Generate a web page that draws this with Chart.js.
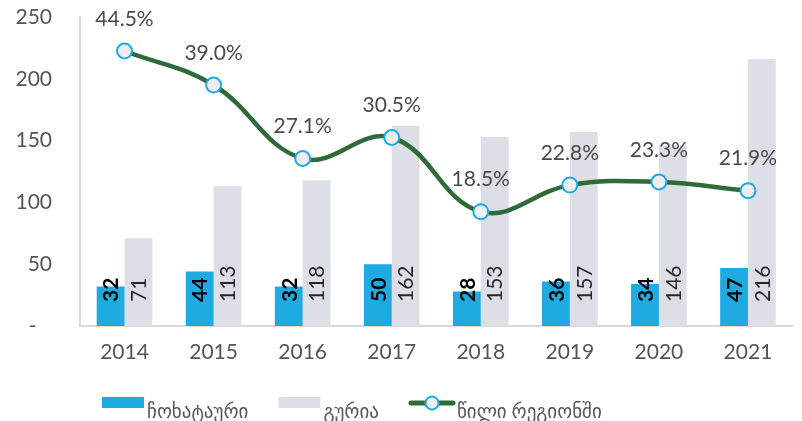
<!DOCTYPE html>
<html>
<head>
<meta charset="utf-8">
<script src="https://cdn.jsdelivr.net/npm/chart.js@4.4.0/dist/chart.umd.min.js"></script>
<style>
  html, body { margin: 0; padding: 0; background: #fff; }
</style>
</head>
<body>
<canvas id="myChart" width="802" height="421"></canvas>
<script>
'use strict';

const years = ['2014', '2015', '2016', '2017', '2018', '2019', '2020', '2021'];
const chokhatauri = [32, 44, 32, 50, 28, 36, 34, 47];
const guria = [71, 113, 118, 162, 153, 157, 146, 216];
const share = [44.5, 39.0, 27.1, 30.5, 18.5, 22.8, 23.3, 21.9];
const yTicks = [0, 50, 100, 150, 200, 250];
const names = ['ჩოხატაური', 'გურია', 'წილი რეგიონში'];

const font = 'Lato, "DejaVu Sans", sans-serif';
const blue = '#1dabe2';
const grey = '#dce0e6';
const green = '#2e6a3a';
const textColor = '#555555';

const ctx = document.getElementById('myChart');

// numbers on the bars and percentages over the points
const valueLabels = {
  id: 'valueLabels',
  afterDatasetsDraw(chart) {
    let c = chart.ctx;
    let base = chart.scales.y.getPixelForValue(0);
    [0, 1].forEach(function (d) {
      chart.getDatasetMeta(d).data.forEach(function (bar, i) {
        c.save();
        c.translate(bar.x, base - 24);
        c.rotate(-Math.PI / 2);
        c.font = (d === 0 ? 'bold ' : '') + '21px ' + font;
        c.fillStyle = d === 0 ? '#000000' : '#262626';
        c.textAlign = 'left';
        c.textBaseline = 'middle';
        c.fillText(String(chart.data.datasets[d].data[i]), 0, 1);
        c.restore();
      });
    });
    c.save();
    c.font = '21px ' + font;
    c.fillStyle = '#4a4a4a';
    c.textAlign = 'center';
    c.textBaseline = 'middle';
    chart.getDatasetMeta(2).data.forEach(function (pt, i) {
      c.fillText(share[i].toFixed(1) + '%', pt.x, pt.y - 32);
    });
    c.restore();
  }
};

// legend drawn by hand so it sits where the original one does
const bottomLegend = {
  id: 'bottomLegend',
  afterDraw(chart) {
    let c = chart.ctx;
    let x = 102;
    let boxTop = 397;
    c.save();
    c.font = '19px ' + font;
    c.textBaseline = 'alphabetic';
    c.textAlign = 'left';
    chart.data.datasets.forEach(function (ds, i) {
      if (ds.type === 'bar') {
        c.fillStyle = ds.backgroundColor;
        c.fillRect(x, boxTop, 42, 11);
        x += 45;
      } else {
        c.strokeStyle = ds.borderColor;
        c.lineWidth = 5;
        c.lineCap = 'round';
        c.beginPath();
        c.moveTo(x + 2, boxTop + 6);
        c.lineTo(x + 44, boxTop + 6);
        c.stroke();
        c.beginPath();
        c.arc(x + 23, boxTop + 6, 6.5, 0, Math.PI * 2);
        c.fillStyle = ds.pointBackgroundColor;
        c.fill();
        c.lineWidth = 2;
        c.strokeStyle = ds.pointBorderColor;
        c.stroke();
        x += 48;
      }
      c.fillStyle = textColor;
      c.fillText(ds.label, x, 418);
      x += c.measureText(ds.label).width + 30;
    });
    c.restore();
  }
};

new Chart(ctx, {
  data: {
    labels: years,
    datasets: [{
      type: 'bar',
      label: names[0],
      data: chokhatauri,
      backgroundColor: blue,
      yAxisID: 'y',
      order: 2,
      categoryPercentage: 0.625,
      barPercentage: 1
    }, {
      type: 'bar',
      label: names[1],
      data: guria,
      backgroundColor: grey,
      yAxisID: 'y',
      order: 3,
      categoryPercentage: 0.625,
      barPercentage: 1
    }, {
      type: 'line',
      label: names[2],
      data: share,
      yAxisID: 'y1',
      order: 1,
      borderColor: green,
      borderWidth: 4.5,
      tension: 0.4,
      pointRadius: 7.5,
      pointHoverRadius: 7.5,
      pointBackgroundColor: '#eeeeee',
      pointBorderColor: blue,
      pointBorderWidth: 2
    }]
  },
  options: {
    responsive: false,
    devicePixelRatio: 1,
    animation: false,
    layout: {
      padding: { top: 17, right: 5, left: 0, bottom: 55 }
    },
    scales: {
      x: {
        afterFit: function (axis) { axis.height = 40; },
        grid: { display: false, drawTicks: false },
        border: { color: '#d9d9d9', width: 2 },
        ticks: { color: textColor, font: { family: font, size: 21 }, padding: 14 }
      },
      y: {
        min: 0,
        max: 250,
        afterBuildTicks: function (axis) {
          axis.ticks = yTicks.map(function (v) { return { value: v }; });
        },
        afterFit: function (axis) {
          axis.width = 80;
          axis.paddingTop = 0;
          axis.paddingBottom = 0;
        },
        grid: { display: false, drawTicks: false },
        border: { color: '#d9d9d9', width: 2 },
        ticks: {
          color: textColor,
          font: { family: font, size: 21 },
          padding: 28,
          // zero is shown as a dash, set in from the right (blank braille cell keeps the gap)
          callback: function (v) { return v === 0 ? '-\u2800' : v; }
        }
      },
      y1: {
        min: 0,
        max: 50,
        display: false
      }
    },
    plugins: {
      tooltip: { enabled: false },
      legend: { display: false }
    }
  },
  plugins: [valueLabels, bottomLegend]
});
</script>
</body>
</html>
